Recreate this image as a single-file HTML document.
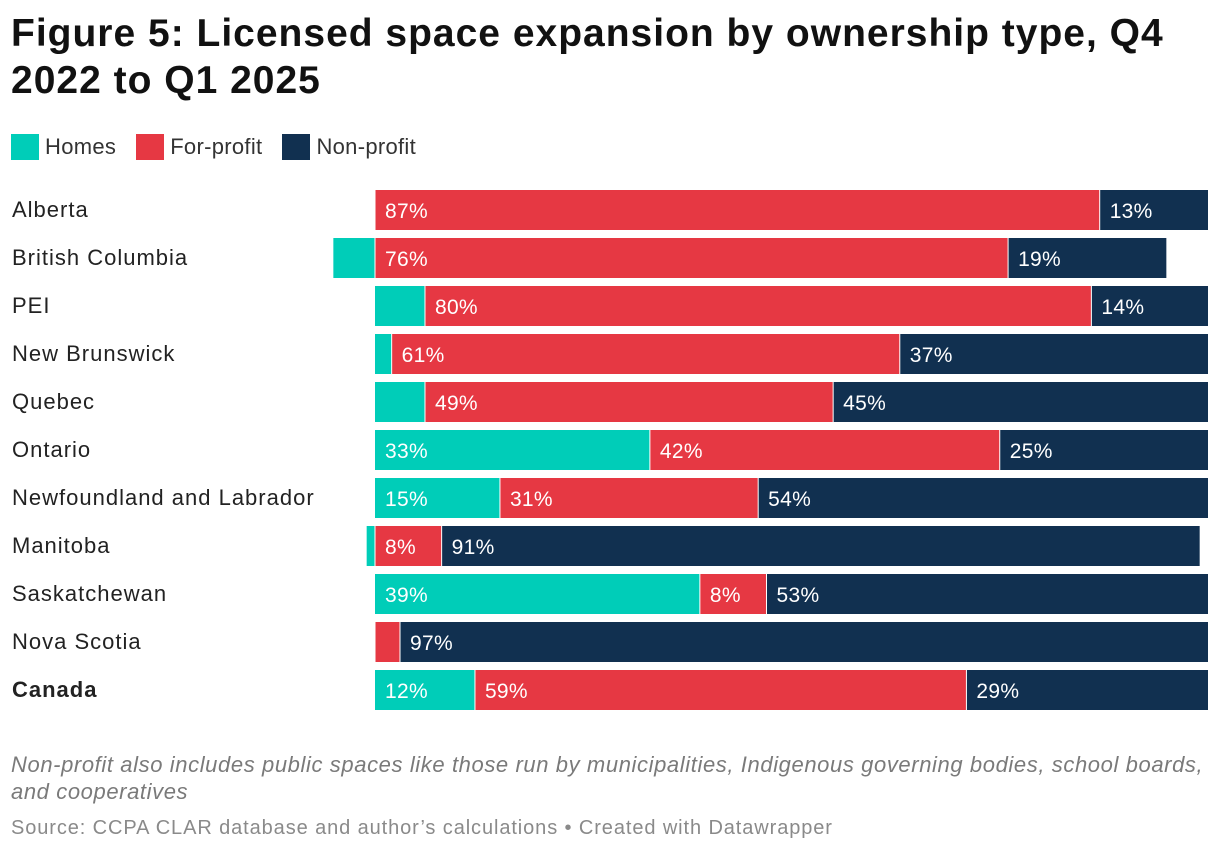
<!DOCTYPE html>
<html><head><meta charset="utf-8">
<style>
body{margin:0;background:#fff;font-family:"Liberation Sans",Arial,sans-serif;width:1220px;height:852px;overflow:hidden;position:relative;color:#222}
h1{position:absolute;left:11px;top:10px;margin:0;font-size:39px;line-height:47px;font-weight:bold;color:#111;width:1210px;letter-spacing:1.0px;white-space:nowrap}
.legend{position:absolute;top:134px;left:11px;display:flex;font-size:22px;color:#333;letter-spacing:0.3px}
.li{display:flex;align-items:center;margin-right:20px}
.sw{width:28px;height:26px;margin-right:6px}
.note{position:absolute;left:11px;top:751px;font-size:22px;font-style:italic;color:#7a7a7a;line-height:27px;width:1215px;white-space:nowrap;letter-spacing:0.6px}
.src{position:absolute;left:11px;top:817px;font-size:20px;color:#8a8a8a;letter-spacing:0.9px}
svg{position:absolute;left:0;top:0}
</style></head><body>
<h1>Figure 5: Licensed space expansion by ownership type, Q4<br>2022 to Q1 2025</h1>
<div class="legend">
<div class="li"><div class="sw" style="background:#00cdb8"></div>Homes</div>
<div class="li"><div class="sw" style="background:#e63843"></div>For-profit</div>
<div class="li"><div class="sw" style="background:#113050"></div>Non-profit</div>
</div>
<svg id="chart" width="1220" height="852"></svg>
<div class="note">Non-profit also includes public spaces like those run by municipalities, Indigenous governing bodies, school boards,<br>and cooperatives</div>
<div class="src">Source: CCPA CLAR database and author’s calculations • Created with Datawrapper</div>
<script>
const categories=["Alberta","British Columbia","PEI","New Brunswick","Quebec","Ontario","Newfoundland and Labrador","Manitoba","Saskatchewan","Nova Scotia","Canada"];
const homes=[0,-5,6,2,6,33,15,-1,39,0,12];
const forProfit=[87,76,80,61,49,42,31,8,8,3,59];
const nonProfit=[13,19,14,37,45,25,54,91,53,97,29];
const svg=document.getElementById('chart');
const NS='http://www.w3.org/2000/svg';
const x0=375,scale=8.33,top0=190,pitch=48,bh=40;
const xs=v=>x0+v*scale;
function mk(t,a){const e=document.createElementNS(NS,t);for(const k in a)e.setAttribute(k,a[k]);svg.appendChild(e);return e;}
categories.forEach((c,i)=>{
  const y=top0+i*pitch;
  const lab=mk('text',{x:12,y:y+27,'font-size':22,'letter-spacing':1.0,fill:'#222','font-weight':c==='Canada'?'bold':'normal'});
  lab.textContent=c;
  
  
  const segs=[[homes[i],'#00cdb8','homes'],[forProfit[i],'#e63843','for-profit'],[nonProfit[i],'#113050','non-profit']];
  let cur=0;
  segs.forEach(([v,col,nm],j)=>{
    let a,b;
    if(j===0&&v<0){a=xs(v);b=xs(0);}else{a=xs(cur);b=xs(cur+v);cur+=v;}
    const r=mk('rect',{x:a,y:y,width:Math.max(0,b-a),height:bh,fill:col});
    
    
    if(j>0) mk('line',{x1:a,x2:a,y1:y,y2:y+bh,stroke:'#fff','stroke-width':1});
    if(v>=7){
      const t=mk('text',{x:a+10,y:y+28,'font-size':21,'letter-spacing':0.3,fill:'#fff'});
      t.textContent=Math.round(v)+'%';
      
      
    }
  });
});
</script>
</body></html>
